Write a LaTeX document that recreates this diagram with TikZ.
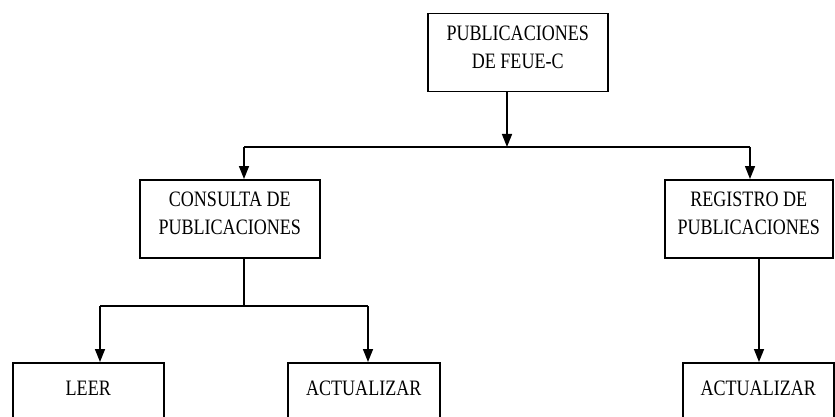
\documentclass[tikz,border=0pt]{standalone}
\usepackage{fontspec}
\usepackage{tikz}
\usetikzlibrary{arrows.meta}
\newfontfamily\cajafont{Liberation Serif}[FakeStretch=0.82]
\newcommand{\dosl}[2]{\rule{0pt}{27pt}#1\\#2\rule[-23pt]{0pt}{0pt}}
\newcommand{\unal}[1]{\rule{0pt}{33pt}#1\rule[-45pt]{0pt}{0pt}}

\begin{document}
\begin{tikzpicture}[x=1pt,y=-1pt,
	caja/.style={draw=black, line width=1.5pt, inner sep=0pt, minimum height=78pt, align=center, anchor=north west, font={\cajafont\fontsize{22}{28}\selectfont}},
	flecha/.style={line width=1.5pt, -{Triangle[length=13pt,width=10pt]}}]
			\useasboundingbox (0,0) rectangle (835,417);
			\clip (0,0) rectangle (835,417);
			\node[caja, minimum width=180pt] (pub) at (427,13) {\dosl{PUBLICACIONES}{DE FEUE-C}};
			\node[caja, minimum width=180pt] (consulta) at (139,179) {\dosl{CONSULTA DE}{PUBLICACIONES}};
			\node[caja, minimum width=168pt] (registro) at (664,179) {\dosl{REGISTRO DE}{PUBLICACIONES}};
			\node[caja, minimum width=151pt] (leer) at (12,362) {\unal{LEER}};
			\node[caja, minimum width=152pt] (act1) at (287,362) {\unal{ACTUALIZAR}};
			\node[caja, minimum width=151pt] (act2) at (682,362) {\unal{ACTUALIZAR}};

			\coordinate (b1) at (507,147);
			\coordinate (b1l) at (244,147);
			\coordinate (b1r) at (750,147);
			\coordinate (b2) at (244,306);
			\coordinate (b2l) at (100,306);
			\coordinate (b2r) at (368,306);
			\coordinate (r1) at (759,300);

			%% lines
			\draw[flecha] (b1 |- pub.south) -- (b1);
			\draw[line width=1.5pt] (b1l) -- (b1r);
			\draw[flecha] (b1l) -- (b1l |- consulta.north);
			\draw[flecha] (b1r) -- (b1r |- registro.north);
			\draw[line width=1.5pt] (b2 |- consulta.south) -- (b2);
			\draw[line width=1.5pt] (b2l) -- (b2r);
			\draw[flecha] (b2l) -- (b2l |- leer.north);
			\draw[flecha] (b2r) -- (b2r |- act1.north);
			\draw[flecha] (r1 |- registro.south) -- (r1 |- act2.north);
		\end{tikzpicture}
\end{document}
